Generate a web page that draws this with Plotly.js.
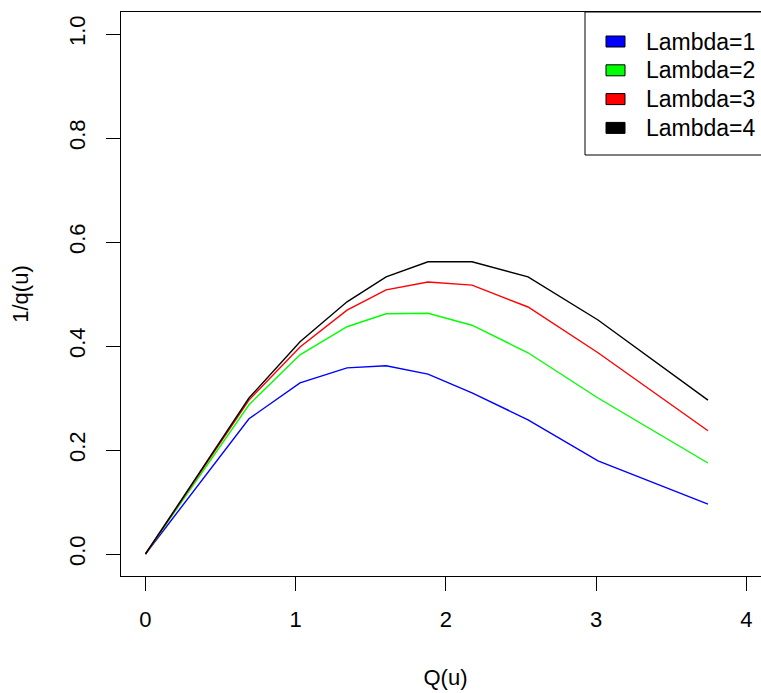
<!DOCTYPE html>
<html>
<head>
<meta charset="utf-8">
<script src="https://cdn.plot.ly/plotly-3.0.1.min.js"></script>
<style>
html,body{margin:0;padding:0;overflow:hidden;background:#fff;}
#chart{width:771px;height:693px;}
</style>
</head>
<body>
<div id="chart"></div>
<script>
// Data
const Q = [0, 0.689, 1.029, 1.342, 1.602, 1.881, 2.174, 2.547, 3.013, 3.745];
const lambda1 = [0, 0.260, 0.329, 0.358, 0.362, 0.346, 0.310, 0.258, 0.179, 0.096];
const lambda2 = [0, 0.287, 0.383, 0.437, 0.462, 0.463, 0.440, 0.387, 0.300, 0.175];
const lambda3 = [0, 0.296, 0.398, 0.469, 0.508, 0.523, 0.517, 0.475, 0.387, 0.237];
const lambda4 = [0, 0.300, 0.408, 0.485, 0.533, 0.562, 0.562, 0.533, 0.450, 0.296];
const seriesNames = ["Lambda=1", "Lambda=2", "Lambda=3", "Lambda=4"];
const seriesColors = ["#0000FF", "#00FF00", "#FF0000", "#000000"];
const xTicks = [0, 1, 2, 3, 4];
const yTicks = [0, 0.2, 0.4, 0.6, 0.8, 1.0];
const yTickText = ["0.0", "0.2", "0.4", "0.6", "0.8", "1.0"];

const ys = [lambda1, lambda2, lambda3, lambda4];
const traces = ys.map((y, i) => ({
  x: Q, y: y, type: "scatter", mode: "lines", name: seriesNames[i],
  line: {color: seriesColors[i], width: 1.4}, showlegend: false
}));

const W = 771, H = 693;
const ml = 121, mr = 1, mt = 12, mb = 117;
const pw = W - ml - mr, ph = H - mt - mb;
const font = {family: "Liberation Sans, Arial, sans-serif", size: 22, color: "#000"};
const legendFont = {family: "Liberation Sans, Arial, sans-serif", size: 23, color: "#000"};

// legend (R-style box in top right corner)
const shapes = [];
const annotations = [];
const lgLeft = 585, lgBottom = 155;
const px2x = p => (p - ml) / pw;
const py2y = p => (H - mb - p) / ph;
shapes.push({type: "rect", xref: "paper", yref: "paper",
  x0: px2x(lgLeft), x1: 1, y0: py2y(lgBottom), y1: 1,
  line: {color: "#000", width: 1}, fillcolor: "#fff", layer: "above"});
const rowY = [41.5, 70.3, 99.1, 127.9];
seriesNames.forEach((n, i) => {
  shapes.push({type: "rect", xref: "paper", yref: "paper",
    x0: px2x(606), x1: px2x(625), y0: py2y(rowY[i] + 5.5), y1: py2y(rowY[i] - 5.5),
    line: {color: "#000", width: 1}, fillcolor: seriesColors[i], layer: "above"});
  annotations.push({xref: "paper", yref: "paper", x: px2x(644), y: py2y(rowY[i]),
    xanchor: "left", yanchor: "middle", text: n, showarrow: false, font: legendFont});
});

const layout = {
  width: W, height: H,
  margin: {l: ml, r: mr, t: mt, b: mb, pad: 0},
  paper_bgcolor: "#fff", plot_bgcolor: "#fff",
  font: font,
  showlegend: false,
  xaxis: {
    range: [-0.163, 4.158], tickvals: xTicks, ticktext: xTicks.map(String),
    showgrid: false, zeroline: false, showline: true, mirror: true,
    linecolor: "#000", linewidth: 1, ticks: "outside", ticklen: 14, tickcolor: "#000",
    tickwidth: 1, ticklabelstandoff: 10, tickfont: font,
    title: {text: "Q(u)", font: font, standoff: 38}, automargin: false
  },
  yaxis: {
    range: [-0.0423, 1.0423], tickvals: yTicks, ticktext: yTickText,
    showgrid: false, zeroline: false, showline: true, mirror: true,
    linecolor: "#000", linewidth: 1, ticks: "outside", ticklen: 14, tickcolor: "#000",
    tickwidth: 1, tickangle: -90, ticklabelstandoff: 12, tickfont: font,
    title: {text: "1/q(u)", font: font, standoff: 30}, automargin: false
  },
  shapes: shapes,
  annotations: annotations
};

Plotly.newPlot("chart", traces, layout, {displayModeBar: false, staticPlot: true});
</script>
</body>
</html>
